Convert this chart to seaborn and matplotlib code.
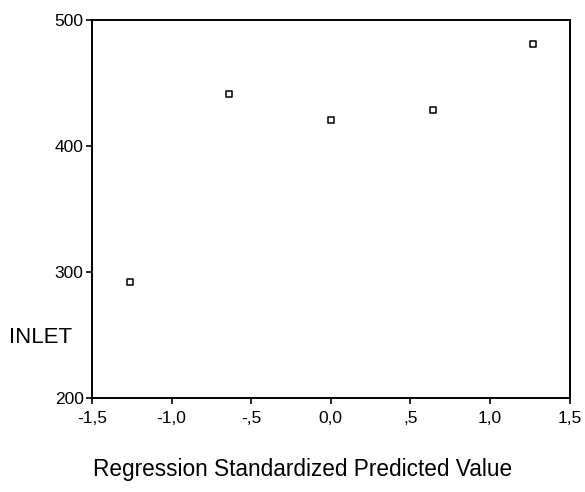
import matplotlib
matplotlib.use("Agg")
import matplotlib.pyplot as plt
import seaborn as sns
import pandas as pd

# standardized predicted values vs observed INLET
pred_std = [-1.26, -0.64, 0.00, 0.64, 1.27]
inlet = [292, 441, 421, 429, 481]

xticks = [-1.5, -1.0, -0.5, 0.0, 0.5, 1.0, 1.5]
xtick_labels = ["-1,5", "-1,0", "-,5", "0,0", ",5", "1,0", "1,5"]
yticks = [200, 300, 400, 500]

sns.set_style("ticks")
plt.rcParams['font.family'] = ['Liberation Sans', 'DejaVu Sans']
plt.rcParams['text.color'] = 'black'
plt.rcParams['axes.labelcolor'] = 'black'

df = pd.DataFrame({"pred": pred_std, "inlet": inlet})

fig = plt.figure(figsize=(5.85, 4.92), dpi=100)
ax = fig.add_axes([0.157, 0.191, 0.817, 0.768])

sns.scatterplot(data=df, x="pred", y="inlet", ax=ax, marker="s", s=24,
                facecolor="white", edgecolor="black", linewidth=1.1, zorder=3)

ax.set_xlim(-1.5, 1.5)
ax.set_ylim(200, 500)
ax.set_xticks(xticks)
ax.set_xticklabels(xtick_labels)
ax.set_yticks(yticks)
ax.tick_params(axis="both", direction="out", length=4, width=1.2,
               labelsize=12.5, colors="black")
ax.tick_params(axis="x", pad=5)
ax.tick_params(axis="y", pad=2)

for sp in ax.spines.values():
    sp.set_visible(True)
    sp.set_color("black")
    sp.set_linewidth(1.4)

ax.set_xlabel("Regression Standardized Predicted Value", fontsize=16.3, color="black")
ax.xaxis.set_label_coords(0.44, -0.19)
ax.xaxis.label.set_va("center")
ax.set_ylabel("INLET", fontsize=16, rotation=0, ha="right", va="center", color="black")
ax.yaxis.set_label_coords(-0.042, 0.159)

fig.savefig("out.png", dpi=100)
